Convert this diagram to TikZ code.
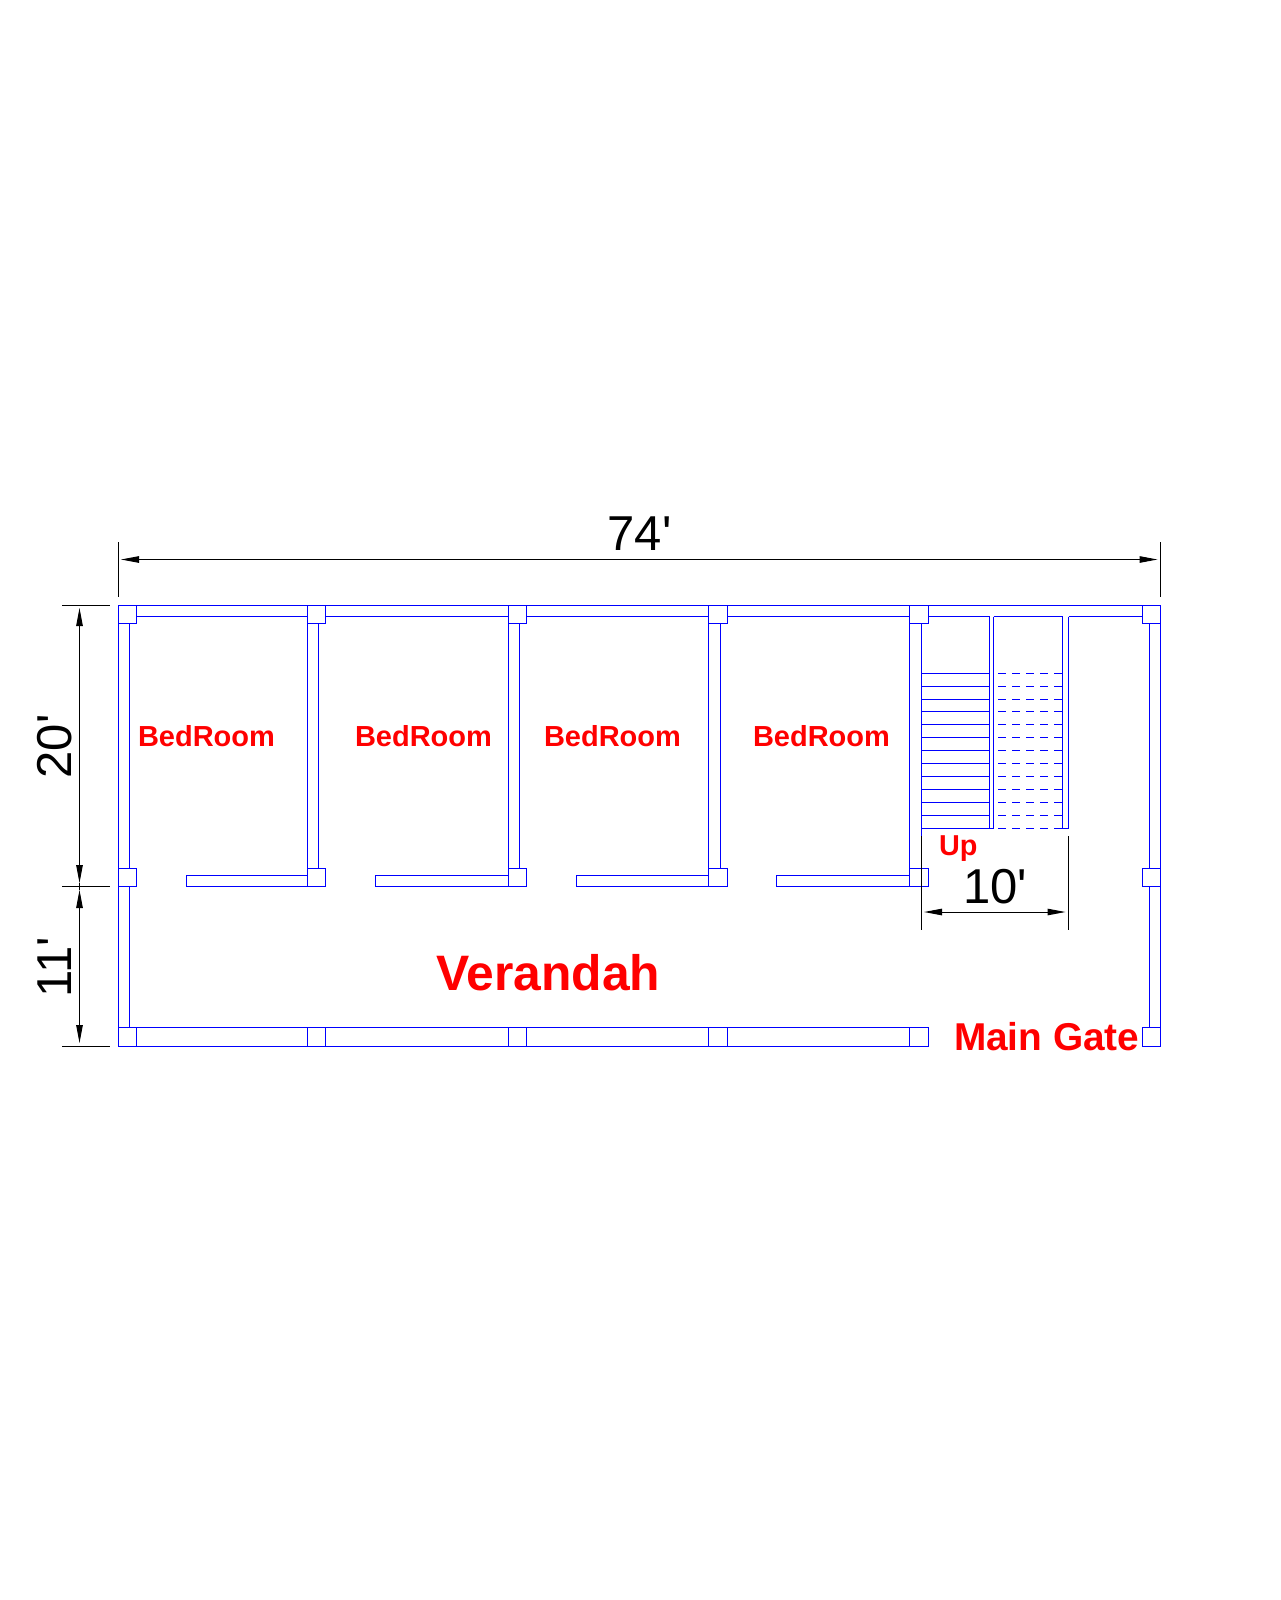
\documentclass[tikz,border=0pt]{standalone}
\usepackage{fontspec}
\setmainfont{Liberation Sans}
\newfontfamily\dimfont{Liberation Sans}
\usetikzlibrary{arrows.meta}
\tikzset{
  wall/.style={draw=blue,line width=1pt},
  dimline/.style={draw=black,line width=1pt},
  dimarrow/.style={draw=black,line width=1pt,{Triangle[length=18pt,width=6.5pt]}-{Triangle[length=18pt,width=6.5pt]}},
  treaddash/.style={wall,dash pattern=on 8pt off 6pt},
  roomlabel/.style={text=red,font=\bfseries\fontsize{29}{30}\selectfont,anchor=base west,inner sep=0pt,outer sep=0pt},
  dimlabel/.style={text=black,font=\dimfont\fontsize{49}{50}\selectfont,anchor=base,inner sep=0pt,outer sep=0pt},
}
\begin{document}
\begin{tikzpicture}[x=1pt,y=-1pt]
\useasboundingbox[fill=white] (0,0) rectangle (1280,1600);
% outer lines
\draw[wall] (118.5,605.5) -- (1160.5,605.5) -- (1160.5,1046.5) -- (1142.5,1046.5);
\draw[wall] (118.5,605.5) -- (118.5,1046.5) -- (928.5,1046.5);
\draw[wall] (118.5,1027.5) -- (136.5,1027.5) -- (928.5,1027.5) -- (928.5,1046.5);
% column squares, top and middle rows
\foreach \xa/\xb in {118.5/136.5,307.5/325.5,508.5/526.5,708.5/727.5,909.5/928.5}{
  \draw[wall] (\xa,605.5) rectangle (\xb,623.5);
  \draw[wall] (\xa,868.5) rectangle (\xb,886.5);
  \draw[wall] (\xa,1027.5) -- (\xa,1046.5) (\xb,1027.5) -- (\xb,1046.5);
}
\draw[wall] (1142.5,605.5) rectangle (1160.5,623.5);
\draw[wall] (1142.5,868.5) rectangle (1160.5,886.5);
\draw[wall] (1142.5,1027.5) rectangle (1160.5,1046.5);
% top wall inner line
\foreach \xa/\xb in {136.5/307.5,325.5/508.5,526.5/708.5,727.5/909.5,928.5/989.5,993.5/1062.5,1068.5/1142.5}
  \draw[wall] (\xa,616.5) -- (\xb,616.5);
% cross walls
\foreach \xa/\xb in {307.5/318.5,508.5/519.5,708.5/720.5,909.5/921.5}
  \draw[wall] (\xa,623.5) -- (\xa,868.5) (\xb,623.5) -- (\xb,868.5);
% left and right wall inner lines
\draw[wall] (129.5,623.5) -- (129.5,868.5) (129.5,886.5) -- (129.5,1027.5);
\draw[wall] (1149.5,623.5) -- (1149.5,868.5) (1149.5,886.5) -- (1149.5,1027.5);
% door-side walls
\foreach \xa/\xb in {186.5/307.5,375.5/508.5,576.5/708.5,776.5/909.5}
  \draw[wall] (\xb,875.5) -- (\xa,875.5) -- (\xa,886.5) -- (\xb,886.5);
% stair
\draw[wall] (989.5,616.5) -- (989.5,828.5) (993.5,616.5) -- (993.5,828.5)
            (1062.5,616.5) -- (1062.5,828.5) (1068.5,616.5) -- (1068.5,828.5);
\draw[wall] (921.5,828.5) -- (993.5,828.5) (1062.5,828.5) -- (1068.5,828.5);
\foreach \y in {673.5,686.5,699.5,711.5,724.5,737.5,750.5,763.5,776.5,789.5,802.5,815.5,828.5}{
  \draw[wall] (921.5,\y) -- (989.5,\y);
  \draw[treaddash] (998,\y) -- (1062.5,\y);
}
% dimensions
\coordinate (tA) at (118.5,542); \coordinate (tB) at (118.5,597);
\coordinate (tC) at (1160.5,542); \coordinate (tD) at (1160.5,597);
\coordinate (tE) at (121,559.5); \coordinate (tF) at (1157.5,559.5);
\draw[dimline] (tA) -- (tB); \draw[dimline] (tC) -- (tD);
\draw[dimarrow] (tE) -- (tF);
\coordinate (lA) at (62,605.5); \coordinate (lB) at (110,605.5);
\coordinate (lC) at (62,886.5); \coordinate (lD) at (110,886.5);
\coordinate (lE) at (62,1046.5); \coordinate (lF) at (110,1046.5);
\draw[dimline] (lA) -- (lB); \draw[dimline] (lC) -- (lD); \draw[dimline] (lE) -- (lF);
\coordinate (vA) at (79.5,608); \coordinate (vB) at (79.5,883);
\coordinate (vC) at (79.5,890); \coordinate (vD) at (79.5,1043);
\draw[dimarrow] (vA) -- (vB); \draw[dimarrow] (vC) -- (vD);
\draw[dimline] (vB) -- (vC);
\coordinate (sA) at (921.5,836); \coordinate (sB) at (921.5,929.5);
\coordinate (sC) at (1068.5,836); \coordinate (sD) at (1068.5,929.5);
\coordinate (sE) at (924,912) ; \coordinate (sF) at (1065.5,912);
\draw[dimline] (sA) -- (sB); \draw[dimline] (sC) -- (sD);
\draw[dimarrow] (sE) -- (sF);
% labels
\node[roomlabel] (bed1) at (138,746) {BedRoom};
\node[roomlabel] (bed2) at (355,746) {BedRoom};
\node[roomlabel] (bed3) at (544,746) {BedRoom};
\node[roomlabel] (bed4) at (753,746) {BedRoom};
\node[roomlabel,font=\bfseries\fontsize{28.8}{30}\selectfont] (up) at (939,855) {Up};
\node[roomlabel,font=\bfseries\fontsize{38.8}{40}\selectfont] (gate) at (954,1050) {Main Gate};
\node[roomlabel,font=\bfseries\fontsize{49.8}{50}\selectfont] (ver) at (436,990) {Verandah};
\node[dimlabel] (d74) at (639.5,550.5) {74'};
\node[dimlabel] (d10) at (995,903) {10'};
\node[dimlabel,rotate=90] (d20) at (71,746.5) {20'};
\node[dimlabel,rotate=90] (d11) at (71,967) {11'};
\end{tikzpicture}
\end{document}
